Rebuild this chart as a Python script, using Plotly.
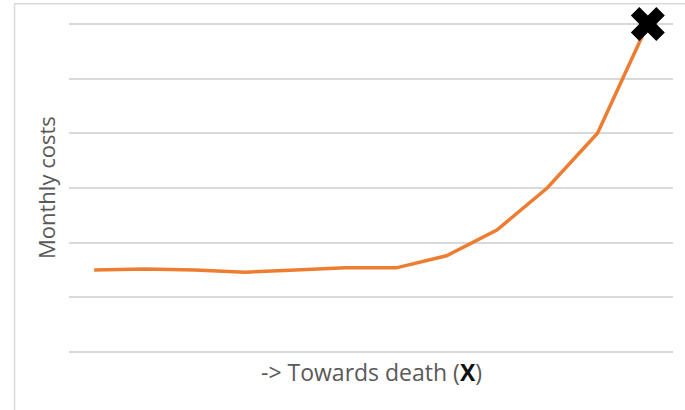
import plotly.graph_objects as go

# Monthly costs over time, ending at death
steps = list(range(12))
monthly_costs = [1.50, 1.52, 1.50, 1.46, 1.50, 1.54, 1.54, 1.76, 2.23, 3.0, 4.0, 6.0]

x_title = "-> Towards death (<b><span style='color:#111111'>X</span></b>)"
y_title = "Monthly costs"

LINE_ORANGE = "#ED7D31"
GRID_GREY = "#D9D9D9"
TEXT_GREY = "#595959"
FONT = "Open Sans, Noto Sans, sans-serif"

fig = go.Figure()

fig.add_trace(go.Scatter(
    x=steps,
    y=monthly_costs,
    mode="lines",
    line=dict(color=LINE_ORANGE, width=3.5),
    hoverinfo="skip",
    showlegend=False,
))

# Final point marked with a heavy cross
fig.add_trace(go.Scatter(
    x=[steps[-1]],
    y=[monthly_costs[-1]],
    mode="markers",
    marker=dict(symbol="x", size=30, color="black", line=dict(width=0)),
    hoverinfo="skip",
    showlegend=False,
    cliponaxis=False,
))

fig.update_xaxes(
    range=[-0.5, 11.5],
    showgrid=False,
    showticklabels=False,
    zeroline=False,
    showline=False,
    ticks="",
)
fig.update_yaxes(
    range=[-0.035, 6.035],
    tick0=0,
    dtick=1,
    showgrid=True,
    gridcolor=GRID_GREY,
    gridwidth=1.5,
    showticklabels=False,
    zeroline=False,
    showline=False,
    ticks="",
)

# Axis titles
fig.add_annotation(
    text=x_title, xref="paper", yref="paper", x=0.5, y=0,
    xanchor="center", yanchor="middle", yshift=-18, showarrow=False,
    font=dict(family=FONT, size=23, color=TEXT_GREY),
)
fig.add_annotation(
    text=y_title, xref="paper", yref="paper", x=0, y=0.5,
    xanchor="center", yanchor="middle", xshift=-23, textangle=-90,
    showarrow=False,
    font=dict(family=FONT, size=22, color=TEXT_GREY),
)

# Chart frame
fig.add_shape(
    type="rect", xref="paper", yref="paper",
    x0=-0.0902, x1=1.2, y0=-0.4, y1=1.055,
    line=dict(color=GRID_GREY, width=1.5),
    fillcolor="rgba(0,0,0,0)", layer="below",
)

fig.update_layout(
    width=685,
    height=410,
    margin=dict(l=69, r=12, t=22, b=56),
    paper_bgcolor="white",
    plot_bgcolor="white",
    font=dict(family=FONT, color=TEXT_GREY),
)

fig.write_html("out.html")
